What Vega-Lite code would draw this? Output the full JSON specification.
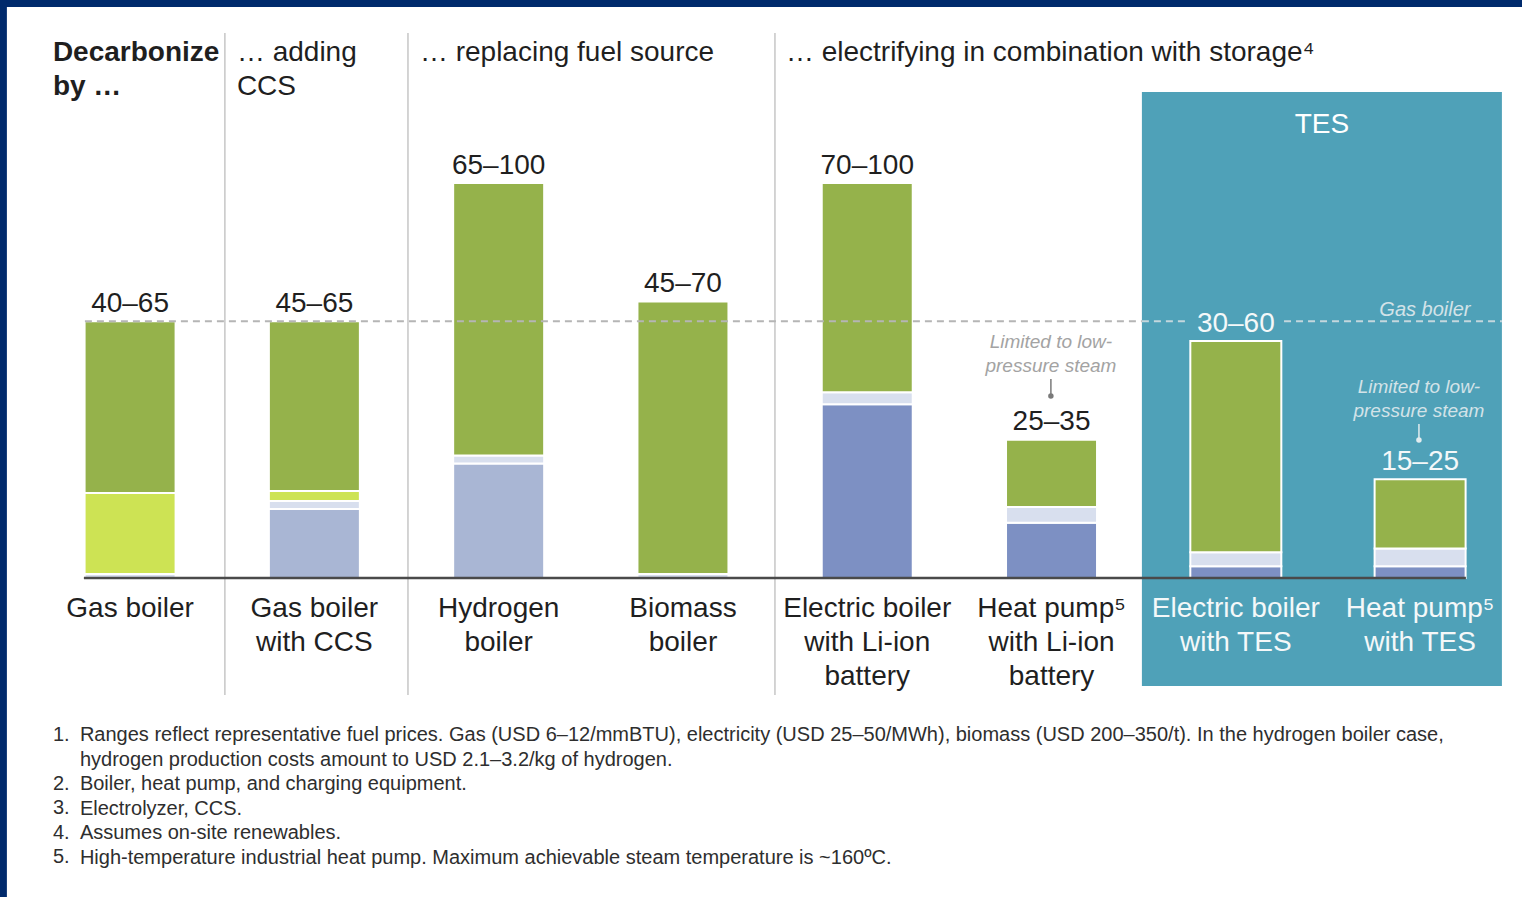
{
  "$schema": "https://vega.github.io/schema/vega-lite/v6.json",
  "width": 1522,
  "height": 897,
  "autosize": {"type": "fit", "contains": "padding"},
  "padding": 0,
  "background": "white",
  "config": {
    "view": {"stroke": null},
    "font": "Liberation Sans",
    "text": {"font": "Liberation Sans", "baseline": "alphabetic"}
  },
  "resolve": {"scale": {"x": "independent"}},
  "layer": [
    {
      "data": {"values": [{}]},
      "layer": [
        {
          "mark": {"type": "rect", "color": "#002a6c"},
          "encoding": {
            "x": {"datum": -0.7054, "type": "quantitative", "scale": {"domain": [-0.7054, 7.5533], "nice": false, "zero": false}, "axis": null},
            "x2": {"datum": 7.5533},
            "y": {"datum": 146.33, "type": "quantitative", "scale": {"domain": [-80.76, 146.33], "nice": false, "zero": false}, "axis": null},
            "y2": {"datum": 144.56}
          }
        },
        {
          "mark": {"type": "rect", "color": "#002a6c"},
          "encoding": {
            "x": {"datum": -0.7054, "type": "quantitative", "scale": {"domain": [-0.7054, 7.5533], "nice": false, "zero": false}, "axis": null},
            "x2": {"datum": -0.668},
            "y": {"datum": 146.33, "type": "quantitative", "scale": {"domain": [-80.76, 146.33], "nice": false, "zero": false}, "axis": null},
            "y2": {"datum": -80.76}
          }
        },
        {
          "mark": {"type": "rect", "color": "#4fa1b8"},
          "encoding": {
            "x": {"datum": 5.4908, "type": "quantitative", "scale": {"domain": [-0.7054, 7.5533], "nice": false, "zero": false}, "axis": null},
            "x2": {"datum": 7.4443},
            "y": {"datum": 123.04, "type": "quantitative", "scale": {"domain": [-80.76, 146.33], "nice": false, "zero": false}, "axis": null},
            "y2": {"datum": -27.34}
          }
        },
        {
          "mark": {"type": "rule", "color": "#c6c6c6", "strokeWidth": 1.5},
          "encoding": {
            "x": {"datum": 0.5148, "type": "quantitative", "scale": {"domain": [-0.7054, 7.5533], "nice": false, "zero": false}, "axis": null},
            "y": {"datum": 137.97, "type": "quantitative", "scale": {"domain": [-80.76, 146.33], "nice": false, "zero": false}, "axis": null},
            "y2": {"datum": -29.62}
          }
        },
        {
          "mark": {"type": "rule", "color": "#c6c6c6", "strokeWidth": 1.5},
          "encoding": {
            "x": {"datum": 1.5083, "type": "quantitative", "scale": {"domain": [-0.7054, 7.5533], "nice": false, "zero": false}, "axis": null},
            "y": {"datum": 137.97, "type": "quantitative", "scale": {"domain": [-80.76, 146.33], "nice": false, "zero": false}, "axis": null},
            "y2": {"datum": -29.62}
          }
        },
        {
          "mark": {"type": "rule", "color": "#c6c6c6", "strokeWidth": 1.5},
          "encoding": {
            "x": {"datum": 3.4996, "type": "quantitative", "scale": {"domain": [-0.7054, 7.5533], "nice": false, "zero": false}, "axis": null},
            "y": {"datum": 137.97, "type": "quantitative", "scale": {"domain": [-80.76, 146.33], "nice": false, "zero": false}, "axis": null},
            "y2": {"datum": -29.62}
          }
        },
        {
          "mark": {"type": "text", "text": ["Decarbonize", "by …"], "align": "left", "fontSize": 28, "fontWeight": "bold", "lineHeight": 34.5, "color": "#1f1f1f"},
          "encoding": {
            "x": {"datum": -0.4184, "type": "quantitative", "scale": {"domain": [-0.7054, 7.5533], "nice": false, "zero": false}, "axis": null},
            "y": {"datum": 130.89, "type": "quantitative", "scale": {"domain": [-80.76, 146.33], "nice": false, "zero": false}, "axis": null}
          }
        },
        {
          "mark": {"type": "text", "text": ["… adding", "CCS"], "align": "left", "fontSize": 28, "lineHeight": 34.5, "color": "#1f1f1f"},
          "encoding": {
            "x": {"datum": 0.58, "type": "quantitative", "scale": {"domain": [-0.7054, 7.5533], "nice": false, "zero": false}, "axis": null},
            "y": {"datum": 130.89, "type": "quantitative", "scale": {"domain": [-80.76, 146.33], "nice": false, "zero": false}, "axis": null}
          }
        },
        {
          "mark": {"type": "text", "text": "… replacing fuel source", "align": "left", "fontSize": 28, "color": "#1f1f1f"},
          "encoding": {
            "x": {"datum": 1.5731, "type": "quantitative", "scale": {"domain": [-0.7054, 7.5533], "nice": false, "zero": false}, "axis": null},
            "y": {"datum": 130.89, "type": "quantitative", "scale": {"domain": [-80.76, 146.33], "nice": false, "zero": false}, "axis": null}
          }
        },
        {
          "mark": {"type": "text", "text": "… electrifying in combination with storage⁴", "align": "left", "fontSize": 28, "color": "#1f1f1f"},
          "encoding": {
            "x": {"datum": 3.559, "type": "quantitative", "scale": {"domain": [-0.7054, 7.5533], "nice": false, "zero": false}, "axis": null},
            "y": {"datum": 130.89, "type": "quantitative", "scale": {"domain": [-80.76, 146.33], "nice": false, "zero": false}, "axis": null}
          }
        },
        {
          "mark": {"type": "text", "text": "TES", "align": "center", "fontSize": 28, "color": "#ffffff"},
          "encoding": {
            "x": {"datum": 6.4675, "type": "quantitative", "scale": {"domain": [-0.7054, 7.5533], "nice": false, "zero": false}, "axis": null},
            "y": {"datum": 112.66, "type": "quantitative", "scale": {"domain": [-80.76, 146.33], "nice": false, "zero": false}, "axis": null}
          }
        },
        {
          "mark": {"type": "text", "text": "Gas boiler", "align": "center", "fontSize": 20, "fontStyle": "italic", "color": "#d3e3e8"},
          "encoding": {
            "x": {"datum": 7.0266, "type": "quantitative", "scale": {"domain": [-0.7054, 7.5533], "nice": false, "zero": false}, "axis": null},
            "y": {"datum": 66.33, "type": "quantitative", "scale": {"domain": [-80.76, 146.33], "nice": false, "zero": false}, "axis": null}
          }
        },
        {
          "mark": {"type": "text", "text": ["Limited to low-", "pressure steam"], "align": "center", "fontSize": 19, "fontStyle": "italic", "lineHeight": 24, "color": "#a3a3a3"},
          "encoding": {
            "x": {"datum": 4.997, "type": "quantitative", "scale": {"domain": [-0.7054, 7.5533], "nice": false, "zero": false}, "axis": null},
            "y": {"datum": 58.23, "type": "quantitative", "scale": {"domain": [-80.76, 146.33], "nice": false, "zero": false}, "axis": null}
          }
        },
        {
          "mark": {"type": "text", "text": ["Limited to low-", "pressure steam"], "align": "center", "fontSize": 19, "fontStyle": "italic", "lineHeight": 24, "color": "#d3e3e8"},
          "encoding": {
            "x": {"datum": 6.9941, "type": "quantitative", "scale": {"domain": [-0.7054, 7.5533], "nice": false, "zero": false}, "axis": null},
            "y": {"datum": 46.84, "type": "quantitative", "scale": {"domain": [-80.76, 146.33], "nice": false, "zero": false}, "axis": null}
          }
        },
        {
          "mark": {"type": "rule", "color": "#7a7a7a", "strokeWidth": 1.5},
          "encoding": {
            "x": {"datum": 4.997, "type": "quantitative", "scale": {"domain": [-0.7054, 7.5533], "nice": false, "zero": false}, "axis": null},
            "y": {"datum": 50.38, "type": "quantitative", "scale": {"domain": [-80.76, 146.33], "nice": false, "zero": false}, "axis": null},
            "y2": {"datum": 46.08}
          }
        },
        {
          "mark": {"type": "point", "filled": true, "size": 30, "opacity": 1, "color": "#7a7a7a"},
          "encoding": {
            "x": {"datum": 4.997, "type": "quantitative", "scale": {"domain": [-0.7054, 7.5533], "nice": false, "zero": false}, "axis": null},
            "y": {"datum": 46.08, "type": "quantitative", "scale": {"domain": [-80.76, 146.33], "nice": false, "zero": false}, "axis": null}
          }
        },
        {
          "mark": {"type": "rule", "color": "#e2ecef", "strokeWidth": 1.5},
          "encoding": {
            "x": {"datum": 6.9941, "type": "quantitative", "scale": {"domain": [-0.7054, 7.5533], "nice": false, "zero": false}, "axis": null},
            "y": {"datum": 38.99, "type": "quantitative", "scale": {"domain": [-80.76, 146.33], "nice": false, "zero": false}, "axis": null},
            "y2": {"datum": 34.94}
          }
        },
        {
          "mark": {"type": "point", "filled": true, "size": 30, "opacity": 1, "color": "#e2ecef"},
          "encoding": {
            "x": {"datum": 6.9941, "type": "quantitative", "scale": {"domain": [-0.7054, 7.5533], "nice": false, "zero": false}, "axis": null},
            "y": {"datum": 34.94, "type": "quantitative", "scale": {"domain": [-80.76, 146.33], "nice": false, "zero": false}, "axis": null}
          }
        },
        {
          "mark": {"type": "text", "text": "1.", "align": "left", "fontSize": 20, "color": "#2e2e2e"},
          "encoding": {
            "x": {"datum": -0.4184, "type": "quantitative", "scale": {"domain": [-0.7054, 7.5533], "nice": false, "zero": false}, "axis": null},
            "y": {"datum": -41.27, "type": "quantitative", "scale": {"domain": [-80.76, 146.33], "nice": false, "zero": false}, "axis": null}
          }
        },
        {
          "mark": {"type": "text", "text": ["2.", "3.", "4.", "5."], "align": "left", "fontSize": 20, "lineHeight": 24.5, "color": "#2e2e2e"},
          "encoding": {
            "x": {"datum": -0.4184, "type": "quantitative", "scale": {"domain": [-0.7054, 7.5533], "nice": false, "zero": false}, "axis": null},
            "y": {"datum": -53.67, "type": "quantitative", "scale": {"domain": [-80.76, 146.33], "nice": false, "zero": false}, "axis": null}
          }
        },
        {
          "mark": {
            "type": "text",
            "text": [
              "Ranges reflect representative fuel prices. Gas (USD 6–12/mmBTU), electricity (USD 25–50/MWh), biomass (USD 200–350/t). In the hydrogen boiler case,",
              "hydrogen production costs amount to USD 2.1–3.2/kg of hydrogen.",
              "Boiler, heat pump, and charging equipment.",
              "Electrolyzer, CCS.",
              "Assumes on-site renewables.",
              "High-temperature industrial heat pump. Maximum achievable steam temperature is ~160ºC."
            ],
            "align": "left",
            "fontSize": 20,
            "lineHeight": 24.5,
            "color": "#2e2e2e"
          },
          "encoding": {
            "x": {"datum": -0.2719, "type": "quantitative", "scale": {"domain": [-0.7054, 7.5533], "nice": false, "zero": false}, "axis": null},
            "y": {"datum": -41.27, "type": "quantitative", "scale": {"domain": [-80.76, 146.33], "nice": false, "zero": false}, "axis": null}
          }
        }
      ]
    },
    {
      "data": {
        "values": [
          {"option": "Gas boiler", "range": "40–65", "component": "Equipment", "cost": 1},
          {"option": "Gas boiler", "range": "40–65", "component": "Emissions", "cost": 20.5},
          {"option": "Gas boiler", "range": "40–65", "component": "Electricity & fuel", "cost": 43.5},
          {"option": "Gas boiler\nwith CCS", "range": "45–65", "component": "Process units", "cost": 17.5},
          {"option": "Gas boiler\nwith CCS", "range": "45–65", "component": "Equipment", "cost": 2},
          {"option": "Gas boiler\nwith CCS", "range": "45–65", "component": "Emissions", "cost": 2.5},
          {"option": "Gas boiler\nwith CCS", "range": "45–65", "component": "Electricity & fuel", "cost": 43},
          {"option": "Hydrogen\nboiler", "range": "65–100", "component": "Process units", "cost": 29},
          {"option": "Hydrogen\nboiler", "range": "65–100", "component": "Equipment", "cost": 2},
          {"option": "Hydrogen\nboiler", "range": "65–100", "component": "Electricity & fuel", "cost": 69},
          {"option": "Biomass\nboiler", "range": "45–70", "component": "Equipment", "cost": 1},
          {"option": "Biomass\nboiler", "range": "45–70", "component": "Electricity & fuel", "cost": 69},
          {"option": "Electric boiler\nwith Li-ion\nbattery", "range": "70–100", "component": "Storage", "cost": 44},
          {"option": "Electric boiler\nwith Li-ion\nbattery", "range": "70–100", "component": "Equipment", "cost": 3},
          {"option": "Electric boiler\nwith Li-ion\nbattery", "range": "70–100", "component": "Electricity & fuel", "cost": 53},
          {"option": "Heat pump⁵\nwith Li-ion\nbattery", "range": "25–35", "component": "Storage", "cost": 14},
          {"option": "Heat pump⁵\nwith Li-ion\nbattery", "range": "25–35", "component": "Equipment", "cost": 4},
          {"option": "Heat pump⁵\nwith Li-ion\nbattery", "range": "25–35", "component": "Electricity & fuel", "cost": 17},
          {"option": "Electric boiler\nwith TES", "range": "30–60", "component": "Storage", "cost": 3},
          {"option": "Electric boiler\nwith TES", "range": "30–60", "component": "Equipment", "cost": 3.5},
          {"option": "Electric boiler\nwith TES", "range": "30–60", "component": "Electricity & fuel", "cost": 53.5},
          {"option": "Heat pump⁵\nwith TES", "range": "15–25", "component": "Storage", "cost": 3},
          {"option": "Heat pump⁵\nwith TES", "range": "15–25", "component": "Equipment", "cost": 4.5},
          {"option": "Heat pump⁵\nwith TES", "range": "15–25", "component": "Electricity & fuel", "cost": 17.5}
        ]
      },
      "layer": [
        {
          "mark": {"type": "bar", "stroke": "white", "strokeWidth": 2},
          "encoding": {
            "x": {
              "field": "option",
              "type": "nominal",
              "axis": null,
              "scale": {
                "domain": ["Gas boiler", "Gas boiler\nwith CCS", "Hydrogen\nboiler", "Biomass\nboiler", "Electric boiler\nwith Li-ion\nbattery", "Heat pump⁵\nwith Li-ion\nbattery", "Electric boiler\nwith TES", "Heat pump⁵\nwith TES"],
                "paddingInner": 0.5062,
                "paddingOuter": 0.3825,
                "align": 0.6
              }
            },
            "y": {"field": "cost", "type": "quantitative", "stack": "zero", "scale": {"domain": [-80.76, 146.33], "nice": false, "zero": false}, "axis": null},
            "order": {"field": "component", "sort": "descending"},
            "color": {
              "field": "component",
              "type": "nominal",
              "scale": {
                "domain": ["Storage", "Process units", "Equipment", "Emissions", "Electricity & fuel"],
                "range": ["#7d90c3", "#a9b6d4", "#d8dfee", "#cde354", "#95b24b"]
              },
              "legend": null
            }
          }
        },
        {
          "transform": [
            {"aggregate": [{"op": "sum", "field": "cost", "as": "total"}], "groupby": ["option", "range"]}
          ],
          "mark": {"type": "text", "align": "center", "fontSize": 28, "dy": -9.5},
          "encoding": {
            "x": {"field": "option", "type": "nominal", "axis": null},
            "y": {"field": "total", "type": "quantitative", "scale": {"domain": [-80.76, 146.33], "nice": false, "zero": false}, "axis": null},
            "text": {"field": "range"},
            "color": {"condition": {"test": "indexof(datum.option, 'TES') >= 0", "value": "#f4f8f9"}, "value": "#1f1f1f"}
          }
        },
        {
          "transform": [
            {"aggregate": [{"op": "sum", "field": "cost", "as": "total"}], "groupby": ["option"]}
          ],
          "mark": {"type": "text", "align": "center", "fontSize": 28, "lineBreak": "\n", "lineHeight": 34},
          "encoding": {
            "x": {"field": "option", "type": "nominal", "axis": null},
            "y": {"datum": -9.87, "type": "quantitative", "scale": {"domain": [-80.76, 146.33], "nice": false, "zero": false}, "axis": null},
            "text": {"field": "option"},
            "color": {"condition": {"test": "indexof(datum.option, 'TES') >= 0", "value": "#f4f8f9"}, "value": "#1f1f1f"}
          }
        }
      ]
    },
    {
      "data": {"values": [{}]},
      "layer": [
        {
          "mark": {"type": "rule", "color": "#b5b5b5", "strokeWidth": 2, "strokeDash": [7, 5]},
          "encoding": {
            "x": {"datum": -0.2447, "type": "quantitative", "scale": {"domain": [-0.7054, 7.5533], "nice": false, "zero": false}, "axis": null},
            "x2": {"datum": 5.4908},
            "y": {"datum": 65, "type": "quantitative", "scale": {"domain": [-80.76, 146.33], "nice": false, "zero": false}, "axis": null}
          }
        },
        {
          "mark": {"type": "rule", "color": "#c4d7dd", "strokeWidth": 2, "strokeDash": [7, 5]},
          "encoding": {
            "x": {"datum": 5.4908, "type": "quantitative", "scale": {"domain": [-0.7054, 7.5533], "nice": false, "zero": false}, "axis": null},
            "x2": {"datum": 5.7303},
            "y": {"datum": 65, "type": "quantitative", "scale": {"domain": [-80.76, 146.33], "nice": false, "zero": false}, "axis": null}
          }
        },
        {
          "mark": {"type": "rule", "color": "#c4d7dd", "strokeWidth": 2, "strokeDash": [7, 5]},
          "encoding": {
            "x": {"datum": 6.262, "type": "quantitative", "scale": {"domain": [-0.7054, 7.5533], "nice": false, "zero": false}, "axis": null},
            "x2": {"datum": 7.4443},
            "y": {"datum": 65, "type": "quantitative", "scale": {"domain": [-80.76, 146.33], "nice": false, "zero": false}, "axis": null}
          }
        },
        {
          "mark": {"type": "rule", "color": "#4a4a4a", "strokeWidth": 2.5},
          "encoding": {
            "x": {"datum": -0.2502, "type": "quantitative", "scale": {"domain": [-0.7054, 7.5533], "nice": false, "zero": false}, "axis": null},
            "x2": {"datum": 7.2489},
            "y": {"datum": 0, "type": "quantitative", "scale": {"domain": [-80.76, 146.33], "nice": false, "zero": false}, "axis": null}
          }
        }
      ]
    }
  ]
}
